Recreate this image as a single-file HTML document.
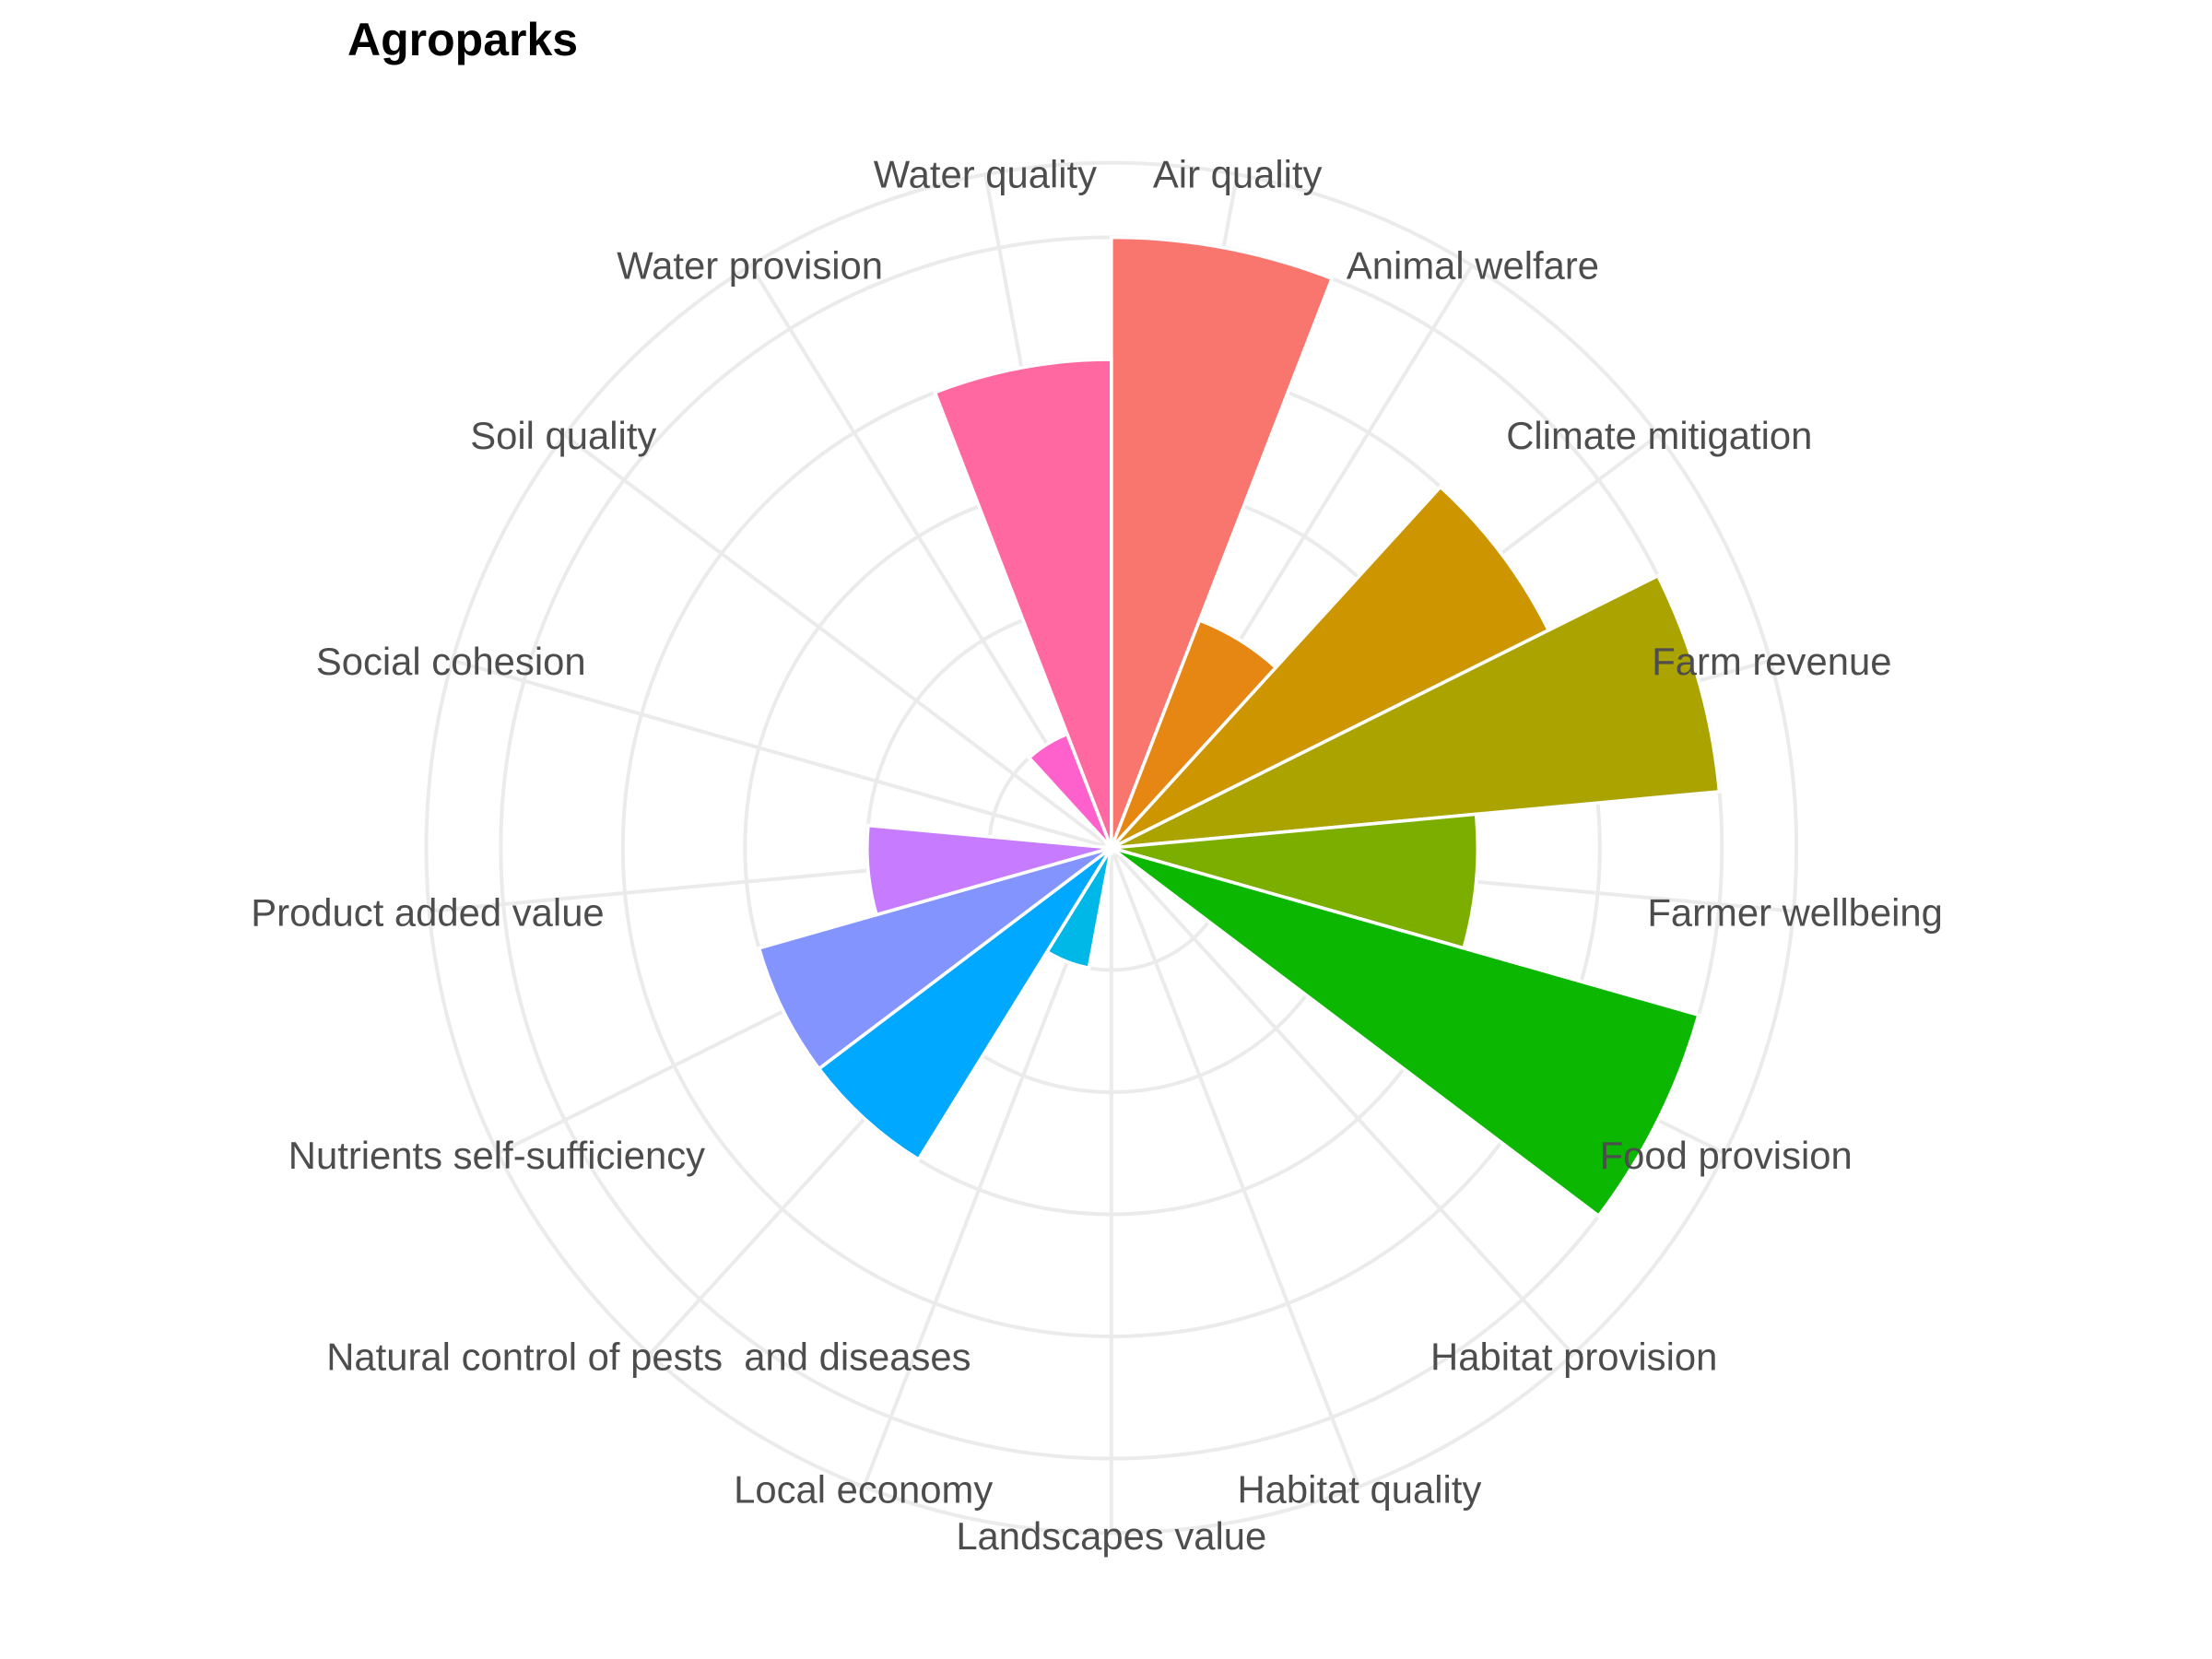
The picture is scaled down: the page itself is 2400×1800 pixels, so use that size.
<!DOCTYPE html>
<html lang="en">
<head>
<meta charset="utf-8">
<title>Agroparks</title>
<style>
  html, body { margin: 0; padding: 0; background: #ffffff; }
  svg { display: block; }
  text { font-family: "Liberation Sans", Arial, sans-serif; white-space: pre; }
  .axis-label { font-size: 41.8px; fill: #4D4D4D; text-anchor: middle; }
  .chart-title { font-size: 50px; font-weight: bold; fill: #000000; }
</style>
</head>
<body>
<svg id="chart" width="2400" height="1800" viewBox="0 0 2400 1800" xmlns="http://www.w3.org/2000/svg">
  <rect x="0" y="0" width="2400" height="1800" fill="#ffffff"></rect>
  <g id="rings"></g>
  <g id="spokes"></g>
  <g id="bars"></g>
  <g id="labels"></g>
  <text class="chart-title" x="377" y="60">Agroparks</text>
</svg>
<script>
const categories = [
  "Air quality", "Animal welfare", "Climate mitigation", "Farm revenue",
  "Farmer wellbeing", "Food provision", "Habitat provision", "Habitat quality",
  "Landscapes value", "Local economy", "Natural control of pests  and diseases",
  "Nutrients self-sufficiency", "Product added value", "Social cohesion",
  "Soil quality", "Water provision", "Water quality"
];
const values = [5, 2, 4, 5, 3, 5, 0, 0, 0, 1, 3, 3, 2, 0, 0, 1, 4];
const barColors = [
  "#F8766D", "#E68613", "#CD9600", "#ABA300", "#7CAE00", "#0CB702", "#00BE67", "#00C19A",
  "#00BFC4", "#00B8E7", "#00A9FF", "#8494FF", "#C77CFF", "#ED68ED", "#ED68ED", "#FF61CC", "#FF68A1"
];
const radialBreaks = [1, 2, 3, 4, 5];
const radialLimit = 5.61;

const SVG_NS = "http://www.w3.org/2000/svg";
const cx = 1205.8;
const cy = 920;
const unit = 132.5;
const gridWidth = 4;
const outlineWidth = 3.6;
const labelRadius = 745;
const labelBaselineShift = 16;

function rScale(v) { return v * unit; }
function thetaScale(i) { return (i / categories.length) * 2 * Math.PI; }
function px(theta, r) { return cx + r * Math.sin(theta); }
function py(theta, r) { return cy - r * Math.cos(theta); }

const ringGroup = document.getElementById("rings");
radialBreaks.concat([radialLimit]).forEach(function (b) {
  const ring = document.createElementNS(SVG_NS, "circle");
  
  
  ring.setAttribute("cx", cx);
  ring.setAttribute("cy", cy);
  ring.setAttribute("r", rScale(b));
  ring.setAttribute("fill", "none");
  ring.setAttribute("stroke", "#EBEBEB");
  ring.setAttribute("stroke-width", gridWidth);
  ringGroup.appendChild(ring);
});

const spokeGroup = document.getElementById("spokes");
categories.forEach(function (name, i) {
  const t = thetaScale(i + 0.5);
  const spoke = document.createElementNS(SVG_NS, "line");
  
  
  spoke.setAttribute("x1", cx);
  spoke.setAttribute("y1", cy);
  spoke.setAttribute("x2", px(t, rScale(radialLimit)));
  spoke.setAttribute("y2", py(t, rScale(radialLimit)));
  spoke.setAttribute("stroke", "#EBEBEB");
  spoke.setAttribute("stroke-width", gridWidth);
  spokeGroup.appendChild(spoke);
});

const barGroup = document.getElementById("bars");
categories.forEach(function (name, i) {
  const v = values[i];
  if (v <= 0) { return; }
  const r = rScale(v);
  const a0 = thetaScale(i);
  const a1 = thetaScale(i + 1);
  const d = "M " + cx + " " + cy +
    " L " + px(a0, r) + " " + py(a0, r) +
    " A " + r + " " + r + " 0 0 1 " + px(a1, r) + " " + py(a1, r) + " Z";
  const bar = document.createElementNS(SVG_NS, "path");
  
  
  bar.setAttribute("d", d);
  bar.setAttribute("fill", barColors[i]);
  bar.setAttribute("stroke", "#ffffff");
  bar.setAttribute("stroke-width", outlineWidth);
  bar.setAttribute("stroke-linejoin", "miter");
  bar.setAttribute("stroke-miterlimit", "10");
  barGroup.appendChild(bar);
});

const labelGroup = document.getElementById("labels");
categories.forEach(function (name, i) {
  const t = thetaScale(i + 0.5);
  const label = document.createElementNS(SVG_NS, "text");
  
  
  label.setAttribute("class", "axis-label");
  label.setAttribute("x", px(t, labelRadius));
  label.setAttribute("y", py(t, labelRadius) + labelBaselineShift);
  label.textContent = name;
  labelGroup.appendChild(label);
});
</script>
</body>
</html>
